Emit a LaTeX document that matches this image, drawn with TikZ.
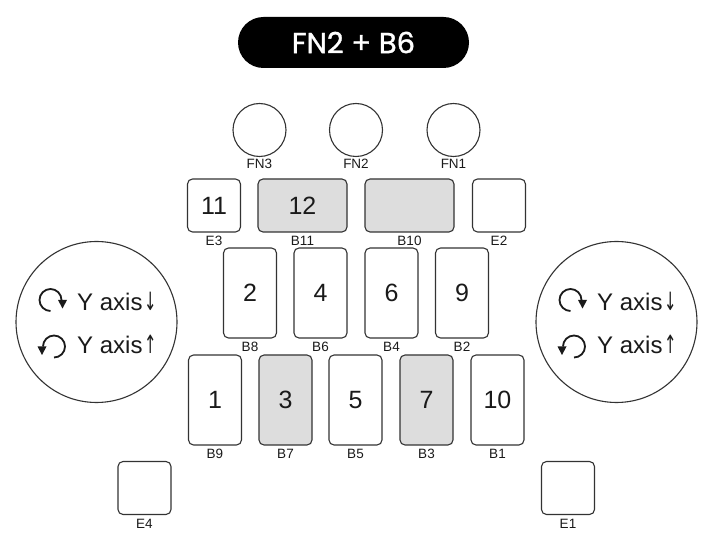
\documentclass[tikz,border=0pt]{standalone}
\usepackage{fontspec}
\setmainfont{Liberation Sans}
\newfontfamily\titlefont{Poppins}[FakeBold=1.2]
\newfontfamily\arrowfont{DejaVu Sans}
\definecolor{linec}{HTML}{333333}
\definecolor{keyfill}{HTML}{DDDDDD}
\definecolor{textc}{HTML}{1A1A1A}
\newcommand{\dnarr}{\hspace{1.5pt}{\arrowfont\scalebox{0.62}[1.05]{↓}}}
\newcommand{\uparr}{\hspace{1.5pt}{\arrowfont\scalebox{0.62}[1.05]{↑}}}
\begin{document}
\begin{tikzpicture}[x=1pt,y=-1pt,
  outl/.style={draw=linec,line width=1.1pt},
  keybox/.style={outl,rounded corners=5pt,inner sep=0pt,text=textc,font=\fontsize{25}{25}\selectfont},
  sq/.style={keybox,minimum width=53pt,minimum height=53pt},
  tall/.style={keybox,minimum width=53pt,minimum height=90pt},
  wide/.style={keybox,minimum width=89pt,minimum height=53pt},
  grayk/.style={fill=keyfill},
  lbl/.style={font=\fontsize{13.5}{13.5}\selectfont,text=textc,inner sep=0pt},
  kl/.style={label={[lbl,label distance=3.5pt]below:#1}},
  fnc/.style={outl,circle,minimum size=53pt,inner sep=0pt,label={[lbl,label distance=1.5pt]below:#1}},
  bigc/.style={outl,circle,minimum size=161pt,inner sep=0pt},
  axtxt/.style={anchor=base west,inner sep=0pt,text=textc,font=\fontsize{24}{24}\selectfont},
  cwicon/.pic={
    \begin{scope}[yscale=-1]
      \draw[textc,line width=1.8pt] (0,-11) arc[start angle=-90,end angle=-360,radius=11];
      \fill[textc] (7.5,0) -- (16.5,0) -- (12,-8.5) -- cycle;
    \end{scope}
  },
  ccwicon/.pic={
    \begin{scope}[yscale=-1,xscale=-1]
      \draw[textc,line width=1.8pt] (0,-11) arc[start angle=-90,end angle=-360,radius=11];
      \fill[textc] (7.5,0) -- (16.5,0) -- (12,-8.5) -- cycle;
    \end{scope}
  }
]
\useasboundingbox[fill=white] (0,0) rectangle (705,553);

% title
\node[fill=black,rounded corners=25.5pt,minimum width=231pt,minimum height=51pt,inner sep=0pt,
  text=white,font=\titlefont\fontsize{29}{29}\selectfont] (title) at (353.5,42.5) {FN2 + B6};

% FN buttons
\node[fnc=FN3] (FN3) at (259.5,130) {};
\node[fnc=FN2] (FN2) at (356,130) {};
\node[fnc=FN1] (FN1) at (453.5,130) {};

% row 1
\node[sq,kl=E3] (E3) at (214,205.5) {11};
\node[wide,grayk,kl=B11] (B11) at (302.5,205.5) {12};
\node[wide,grayk,kl=B10] (B10) at (409.5,205.5) {};
\node[sq,kl=E2] (E2) at (499,205.5) {};

% row 2
\node[tall,kl=B8] (B8) at (250,293) {2};
\node[tall,kl=B6] (B6) at (320.5,293) {4};
\node[tall,kl=B4] (B4) at (391.5,293) {6};
\node[tall,kl=B2] (B2) at (462,293) {9};

% row 3
\node[tall,kl=B9] (B9) at (215,400) {1};
\node[tall,grayk,kl=B7] (B7) at (285.5,400) {3};
\node[tall,kl=B5] (B5) at (355.5,400) {5};
\node[tall,grayk,kl=B3] (B3) at (426.5,400) {7};
\node[tall,kl=B1] (B1) at (497.5,400) {10};

% bottom keys
\node[sq,kl=E4] (E4) at (144.5,488) {};
\node[sq,kl=E1] (E1) at (568,488) {};

% side wheels
\node[bigc] (LW) at (96.5,322) {};
\node[bigc] (RW) at (616.5,322) {};

\foreach \dx/\nm in {0/L,520/R}{
  \pic at (50.5+\dx,300) {cwicon};
  \pic at (54+\dx,346.5) {ccwicon};
  \node[axtxt] (\nm down) at (77+\dx,310.5) {Y axis\dnarr};
  \node[axtxt] (\nm up) at (77+\dx,353.5) {Y axis\uparr};
}
\end{tikzpicture}
\end{document}
